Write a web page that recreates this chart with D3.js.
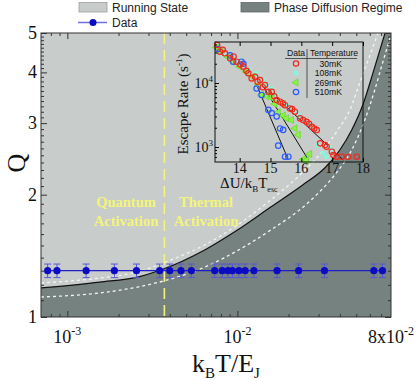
<!DOCTYPE html>
<html>
<head>
<meta charset="utf-8">
<script src="https://cdnjs.cloudflare.com/ajax/libs/d3/7.8.5/d3.min.js"></script>
<style>
  body { margin: 0; background: #fff; }
  svg text { font-family: "Liberation Serif", "Times New Roman", serif; }
  .sans { font-family: "Liberation Sans", Arial, sans-serif; }
</style>
</head>
<body>
<div id="chart"></div>
<script>
// main panel: measured Q vs k_B T / E_J
const dataKT = [7.66e-4, 8.69e-4, 1.29e-3, 1.89e-3, 2.55e-3, 3.49e-3, 4.0e-3, 4.66e-3, 5.36e-3,
  7.35e-3, 8.14e-3, 8.79e-3, 9.35e-3, 1.02e-2, 1.11e-2, 1.25e-2, 1.71e-2, 2.29e-2, 3.25e-2, 6.34e-2, 7.13e-2];
const dataQ = [1.3, 1.3, 1.3, 1.3, 1.3, 1.3, 1.3, 1.3, 1.3, 1.3, 1.3, 1.3, 1.3, 1.3, 1.3, 1.3, 1.3, 1.3, 1.3, 1.3, 1.3];
const dataErr = [0.05, 0.05, 0.05, 0.05, 0.05, 0.05, 0.05, 0.05, 0.05, 0.05, 0.05, 0.05, 0.05, 0.05, 0.05, 0.05, 0.05, 0.05, 0.05, 0.05, 0.05];

// boundary between running state and phase diffusion (solid) and its bounds (dashed)
const boundaryKT = [7e-4, 1.55e-3, 2.59e-3, 3.54e-3, 6.42e-3, 1.0e-2, 1.57e-2, 2.42e-2, 3.26e-2, 4.0e-2, 4.7e-2, 5.46e-2, 6.34e-2, 7.38e-2];
const boundaryQ  = [1.179, 1.219, 1.254, 1.305, 1.462, 1.637, 1.865, 2.113, 2.326, 2.576, 2.886, 3.324, 4.05, 5.0];
const upperKT = [7e-4, 1.55e-3, 2.59e-3, 4.05e-3, 6.42e-3, 1.0e-2, 1.57e-2, 2.33e-2, 3.13e-2, 3.89e-2, 4.58e-2, 5.31e-2, 6.02e-2, 6.71e-2];
const upperQ  = [1.213, 1.247, 1.291, 1.381, 1.504, 1.684, 1.941, 2.236, 2.547, 2.886, 3.232, 3.83, 4.41, 5.0];
const lowerKT = [7e-4, 1.55e-3, 2.59e-3, 6.42e-3, 1.57e-2, 2.59e-2, 3.73e-2, 4.7e-2, 5.61e-2, 6.42e-2, 7.16e-2, 8e-2];
const lowerQ  = [1.12, 1.146, 1.185, 1.327, 1.637, 1.908, 2.236, 2.576, 3.053, 3.62, 4.24, 4.94];
const crossoverKT = 3.72e-3;

const xTickMajor = [1e-3, 1e-2];
const xTickLabels = [["10", "-3"], ["10", "-2"], ["8x10", "-2"]];
const xTickLabelAt = [1e-3, 1e-2, 8e-2];
const yTickMajor = [1, 2, 3, 4, 5];

// inset: escape rate vs barrier
const r30X = [13.27, 13.36, 13.52, 13.69, 13.9, 14.12, 14.28, 14.39, 14.5, 14.66, 14.82, 14.93, 15.04, 15.2, 15.31,
  15.47, 15.63, 15.79, 15.96, 16.06, 16.17, 16.34, 16.5, 16.61, 16.77, 16.82, 16.99, 17.04, 17.15, 17.31, 17.52, 17.8,
  13.45, 13.8, 14.02, 14.22, 14.58, 14.75, 15.12, 15.4, 15.7, 16.25, 16.42];
const r30Y = [3.93e4, 3.08e4, 2.91e4, 2.43e4, 2.15e4, 1.8e4, 1.42e4, 1.18e4, 1.25e4, 1.11e4, 9.3e3, 7.3e3, 7.3e3, 5.4e3, 5.1e3,
  4.5e3, 4.0e3, 3.56e3, 2.8e3, 2.64e3, 2.48e3, 2.07e3, 1.84e3, 1.14e3, 1.07e3, 1.01e3, 845, 750, 705, 705, 705, 705,
  3.3e4, 2.6e4, 1.95e4, 1.55e4, 1.05e4, 8.6e3, 6.2e3, 4.8e3, 3.9e3, 2.3e3, 1.95e3];
const r108X = [13.3, 13.46, 13.73, 14.0, 14.33, 14.54, 14.76, 14.86, 15.03, 15.19, 15.4, 15.57, 15.78, 15.95, 16.06, 16.27, 16.54, 16.7, 16.81, 16.92, 17.03];
const r108Y = [3.2e4, 2.9e4, 2.7e4, 2.3e4, 1.6e4, 1.42e4, 1.11e4, 9.3e3, 8.2e3, 6.5e3, 5.1e3, 4.5e3, 3.7e3, 3.1e3, 2.64e3, 2.3e3, 1.07e3, 800, 705, 1.0e3, 845];
const r269X = [13.24, 13.4, 13.62, 13.78, 14.0, 14.21, 14.43, 14.6, 14.71, 14.87, 15.04, 15.14, 15.25, 15.41, 15.52, 15.68, 15.79, 15.9, 16.06, 16.17, 16.27];
const r269Y = [3.6e4, 3.08e4, 2.55e4, 2.15e4, 1.8e4, 1.5e4, 1.25e4, 9.3e3, 6.5e3, 6.2e3, 5.9e3, 4.7e3, 3.5e3, 3.1e3, 2.8e3, 2.64e3, 1.95e3, 1.55e3, 640, 620, 780];
const r510X = [13.3, 13.69, 13.79, 14.06, 14.12, 14.55, 14.71, 14.93, 15.04, 15.2, 15.31, 15.41, 15.25, 15.47, 15.58];
const r510Y = [3.4e4, 2.7e4, 2.15e4, 2.15e4, 2.0e4, 8.2e3, 6.5e3, 3.8e3, 3.4e3, 3.0e3, 1.95e3, 1.85e3, 1.05e3, 705, 705];
const fitLines = [
  { x: [14.55, 15.58], y: [9.3e3, 627] },
  { x: [14.77, 16.23], y: [8.75e3, 627] },
  { x: [14.93, 17.36], y: [7.78e3, 627] }
];
const insetXTicks = [14, 15, 16, 17, 18];
const insetYTicks = [1e3, 1e4];
const tempLabels = ["30mK", "108mK", "269mK", "510mK"];

const W = 416, H = 380;
const LIGHT = "#c8cccb", DARK = "#768280", BLUE = "#0b0bc4", YELLOW = "#f4f47a";

const svg = d3.select("#chart").append("svg").attr("width", W).attr("height", H);

const x = d3.scaleLog().domain([7e-4, 8e-2]).range([41, 391]);
const y = d3.scaleLog().domain([1, 5]).range([317, 33]);

svg.append("defs").append("clipPath").attr("id", "plotClip")
  .append("rect").attr("x", 41).attr("y", 33).attr("width", 350).attr("height", 284);

const plot = svg.append("g").attr("clip-path", "url(#plotClip)");
plot.append("rect").attr("x", 41).attr("y", 33).attr("width", 350).attr("height", 284).attr("fill", LIGHT);

const bPts = boundaryKT.map((d, i) => [d, boundaryQ[i]]);
const line = d3.line().x(d => x(d[0])).y(d => y(d[1])).curve(d3.curveMonotoneX);
plot.append("path")
  .attr("d", line(bPts) + "L391,33L391,317L41,317Z")
  .attr("fill", DARK);

plot.append("path").attr("d", line(upperKT.map((d, i) => [d, upperQ[i]])))
  .attr("fill", "none").attr("stroke", "#f4f4f4").attr("stroke-width", 1.3).attr("stroke-dasharray", "3,3");
plot.append("path").attr("d", line(lowerKT.map((d, i) => [d, lowerQ[i]])))
  .attr("fill", "none").attr("stroke", "#f4f4f4").attr("stroke-width", 1.3).attr("stroke-dasharray", "3,3");
plot.append("path").attr("d", line(bPts))
  .attr("fill", "none").attr("stroke", "#111").attr("stroke-width", 1.2);

plot.append("line")
  .attr("x1", x(crossoverKT)).attr("x2", x(crossoverKT)).attr("y1", 33).attr("y2", 317)
  .attr("stroke", YELLOW).attr("stroke-width", 1.6).attr("stroke-dasharray", "11,6");

// regime labels
[["Quantum", "Activation", 126], ["Thermal", "Activation", 206]].forEach(t => {
  const tx = svg.append("text").attr("text-anchor", "middle").attr("fill", YELLOW)
    .attr("font-weight", "bold").attr("font-size", 14.5);
  tx.append("tspan").attr("x", t[2]).attr("y", 207).text(t[0]);
  tx.append("tspan").attr("x", t[2]).attr("y", 226).text(t[1]);
});

// ---------- inset ----------
const ix = d3.scaleLinear().domain([13.2, 18]).range([215, 363]);
const iy = d3.scaleLog().domain([583, 43700]).range([162, 42]);
const inset = svg.append("g");

fitLines.forEach(f => {
  inset.append("line")
    .attr("x1", ix(f.x[0])).attr("y1", iy(f.y[0]))
    .attr("x2", ix(f.x[1])).attr("y2", iy(f.y[1]))
    .attr("stroke", "#111").attr("stroke-width", 1);
});

const sqr = d3.symbol().type(d3.symbolSquare).size(20);
const tri = d3.symbol().type(d3.symbolTriangle).size(22);

function circles(xs, ys, col) {
  inset.append("g").selectAll("circle").data(xs).join("circle")
    .attr("cx", d => ix(d)).attr("cy", (d, i) => iy(ys[i])).attr("r", 2.7)
    .attr("fill", "none").attr("stroke", col).attr("stroke-width", 1.2);
}
inset.append("g").selectAll("path").data(r108X).join("path")
  .attr("d", sqr).attr("fill", "#86f5dc")
  .attr("transform", (d, i) => `translate(${ix(d)},${iy(r108Y[i])})`);
inset.append("g").selectAll("path").data(r269X).join("path")
  .attr("d", tri).attr("fill", "#8cf24a").attr("stroke", "#55d81a").attr("stroke-width", 0.6)
  .attr("transform", (d, i) => `translate(${ix(d)},${iy(r269Y[i])}) rotate(-90)`);
circles(r510X, r510Y, "#2b5cff");
circles(r30X, r30Y, "#ee2a1e");

inset.append("rect").attr("x", 215).attr("y", 42).attr("width", 148).attr("height", 120)
  .attr("fill", "none").attr("stroke", "#111").attr("stroke-width", 1);

inset.append("g").attr("transform", "translate(0,162)")
  .call(d3.axisBottom(ix).tickValues(insetXTicks).tickSize(-4).tickFormat(""))
  .call(g => g.select(".domain").remove());
inset.append("g").attr("transform", "translate(0,42)")
  .call(d3.axisTop(ix).tickValues(insetXTicks).tickSize(-4).tickFormat(""))
  .call(g => g.select(".domain").remove());
const iyMinor = [700, 800, 900, 2e3, 3e3, 4e3, 5e3, 6e3, 7e3, 8e3, 9e3, 2e4, 3e4, 4e4];
inset.append("g").attr("transform", "translate(215,0)")
  .call(d3.axisLeft(iy).tickValues(insetYTicks).tickSize(-4).tickFormat(""))
  .call(g => g.select(".domain").remove());
inset.append("g").attr("transform", "translate(215,0)")
  .call(d3.axisLeft(iy).tickValues(iyMinor).tickSize(-2).tickFormat(""))
  .call(g => g.select(".domain").remove());

insetXTicks.forEach(v => {
  svg.append("text").attr("x", ix(v)).attr("y", 173).attr("text-anchor", "middle")
    .attr("font-size", 14).attr("fill", "#111").text(v);
});
insetYTicks.forEach(v => {
  const t = svg.append("text").attr("x", 213).attr("y", iy(v) + 5).attr("text-anchor", "end")
    .attr("font-size", 14).attr("fill", "#111");
  t.append("tspan").text("10");
  t.append("tspan").attr("dy", -6).attr("font-size", 9).text(Math.round(Math.log10(v)));
});

const ixt = svg.append("text").attr("x", 220).attr("y", 188).attr("font-size", 15).attr("fill", "#111");
ixt.append("tspan").text("\u0394U/k");
ixt.append("tspan").attr("dy", 4).attr("font-size", 9).text("B");
ixt.append("tspan").attr("dy", -4).text("T");
ixt.append("tspan").attr("dy", 4).attr("font-size", 8).text("esc");

const iyt = svg.append("text").attr("transform", "translate(188,104) rotate(-90)")
  .attr("text-anchor", "middle").attr("font-size", 15).attr("fill", "#111");
iyt.append("tspan").text("Escape Rate (s");
iyt.append("tspan").attr("dy", -6).attr("font-size", 9).text("-1");
iyt.append("tspan").attr("dy", 6).text(")");

// inset legend
const lg = svg.append("g").attr("class", "sans").attr("font-size", 8.6).attr("fill", "#111");
lg.append("text").attr("class", "sans").attr("x", 296).attr("y", 56).attr("text-anchor", "middle").text("Data");
lg.append("text").attr("class", "sans").attr("x", 334).attr("y", 56).attr("text-anchor", "middle").text("Temperature");
lg.append("line").attr("x1", 285).attr("x2", 357).attr("y1", 58.5).attr("y2", 58.5).attr("stroke", "#333").attr("stroke-width", 0.8);
lg.append("line").attr("x1", 307).attr("x2", 307).attr("y1", 49).attr("y2", 98).attr("stroke", "#333").attr("stroke-width", 0.8);
const rowY = [63.5, 73, 82.5, 92];
tempLabels.forEach((t, i) => {
  lg.append("text").attr("class", "sans").attr("x", 342).attr("y", rowY[i] + 3).attr("text-anchor", "end").text(t);
});
lg.append("circle").attr("cx", 296).attr("cy", rowY[0]).attr("r", 2.7).attr("fill", "none").attr("stroke", "#ee2a1e").attr("stroke-width", 1.2);
lg.append("path").attr("d", sqr).attr("fill", "#86f5dc").attr("transform", `translate(296,${rowY[1]})`);
lg.append("path").attr("d", tri).attr("fill", "#8cf24a").attr("stroke", "#55d81a").attr("stroke-width", 0.6).attr("transform", `translate(296,${rowY[2]}) rotate(-90)`);
lg.append("circle").attr("cx", 296).attr("cy", rowY[3]).attr("r", 2.7).attr("fill", "none").attr("stroke", "#2b5cff").attr("stroke-width", 1.2);

// ---------- data series ----------
const dpts = dataKT.map((d, i) => ({ kt: d, q: dataQ[i], e: dataErr[i] }));
svg.append("path")
  .attr("d", d3.line().x(d => x(d.kt)).y(d => y(d.q))(dpts))
  .attr("fill", "none").attr("stroke", "#1f1fc8").attr("stroke-width", 1.2);
const eb = svg.append("g").attr("stroke", "#5656d6").attr("stroke-width", 1);
eb.selectAll(".ev").data(dpts).join("line").attr("class", "ev")
  .attr("x1", d => x(d.kt)).attr("x2", d => x(d.kt))
  .attr("y1", d => y(d.q - d.e)).attr("y2", d => y(d.q + d.e));
eb.selectAll(".et").data(dpts).join("line").attr("class", "et")
  .attr("x1", d => x(d.kt) - 3.5).attr("x2", d => x(d.kt) + 3.5)
  .attr("y1", d => y(d.q + d.e)).attr("y2", d => y(d.q + d.e));
eb.selectAll(".eb").data(dpts).join("line").attr("class", "eb")
  .attr("x1", d => x(d.kt) - 3.5).attr("x2", d => x(d.kt) + 3.5)
  .attr("y1", d => y(d.q - d.e)).attr("y2", d => y(d.q - d.e));
svg.append("g").selectAll("circle").data(dpts).join("circle")
  .attr("cx", d => x(d.kt)).attr("cy", d => y(d.q)).attr("r", 3.6).attr("fill", BLUE);

// ---------- main axes ----------
svg.append("rect").attr("x", 41).attr("y", 33).attr("width", 350).attr("height", 284)
  .attr("fill", "none").attr("stroke", "#333").attr("stroke-width", 1);

const xMinor = [8e-4, 9e-4, 2e-3, 3e-3, 4e-3, 5e-3, 6e-3, 7e-3, 8e-3, 9e-3, 2e-2, 3e-2, 4e-2, 5e-2, 6e-2, 7e-2];
const yMinor = d3.range(11, 50).map(v => v / 10).filter(v => v % 1 !== 0);
function ticks(axis, vals, size, tr) {
  svg.append("g").attr("transform", tr)
    .call(axis.tickValues(vals).tickSize(size).tickFormat(""))
    .call(g => g.select(".domain").remove())
    .call(g => g.selectAll("line").attr("stroke", "#333"));
}
ticks(d3.axisBottom(x), xTickMajor, -6, "translate(0,317)");
ticks(d3.axisBottom(x), xMinor, -3, "translate(0,317)");
ticks(d3.axisTop(x), xTickMajor, -6, "translate(0,33)");
ticks(d3.axisTop(x), xMinor, -3, "translate(0,33)");
ticks(d3.axisLeft(y), yTickMajor, -6, "translate(41,0)");
ticks(d3.axisLeft(y), yMinor, -3, "translate(41,0)");
ticks(d3.axisRight(y), yTickMajor, -6, "translate(391,0)");
ticks(d3.axisRight(y), yMinor, -3, "translate(391,0)");

xTickLabelAt.forEach((v, i) => {
  const t = svg.append("text").attr("x", x(v)).attr("y", 343).attr("text-anchor", "middle")
    .attr("font-size", 18).attr("fill", "#111");
  t.append("tspan").text(xTickLabels[i][0]);
  t.append("tspan").attr("dy", -8).attr("font-size", 12).text(xTickLabels[i][1]);
});
yTickMajor.forEach(v => {
  svg.append("text").attr("x", 37).attr("y", y(v) + 6).attr("text-anchor", "end")
    .attr("font-size", 18).attr("fill", "#111").text(v);
});

svg.append("text").attr("transform", "translate(25,163) rotate(-90)").attr("text-anchor", "middle")
  .attr("font-size", 26).attr("fill", "#111").text("Q");

const xt = svg.append("text").attr("x", 226).attr("y", 372).attr("text-anchor", "middle")
  .attr("font-size", 26).attr("fill", "#111");
xt.append("tspan").text("k");
xt.append("tspan").attr("dy", 6).attr("font-size", 15).text("B");
xt.append("tspan").attr("dy", -6).text("T/E");
xt.append("tspan").attr("dy", 6).attr("font-size", 15).text("J");

// ---------- top legend ----------
const tl = svg.append("g");
tl.append("rect").attr("x", 79).attr("y", 2.5).attr("width", 28).attr("height", 9.5)
  .attr("fill", LIGHT).attr("stroke", "#9a9e9d").attr("stroke-width", 0.8);
tl.append("text").attr("class", "sans").attr("x", 112).attr("y", 12).attr("font-size", 12).attr("fill", "#222").text("Running State");
tl.append("rect").attr("x", 241).attr("y", 2.5).attr("width", 28).attr("height", 9.5)
  .attr("fill", DARK).attr("stroke", "#5e6866").attr("stroke-width", 0.8);
tl.append("text").attr("class", "sans").attr("x", 274).attr("y", 12).attr("font-size", 12).attr("fill", "#222").text("Phase Diffusion Regime");
tl.append("line").attr("x1", 78).attr("x2", 107).attr("y1", 22.5).attr("y2", 22.5).attr("stroke", "#6f6fe0").attr("stroke-width", 1.5);
tl.append("circle").attr("cx", 93).attr("cy", 22.5).attr("r", 3.5).attr("fill", BLUE);
tl.append("text").attr("class", "sans").attr("x", 112).attr("y", 27).attr("font-size", 12).attr("fill", "#222").text("Data");
</script>
</body>
</html>
